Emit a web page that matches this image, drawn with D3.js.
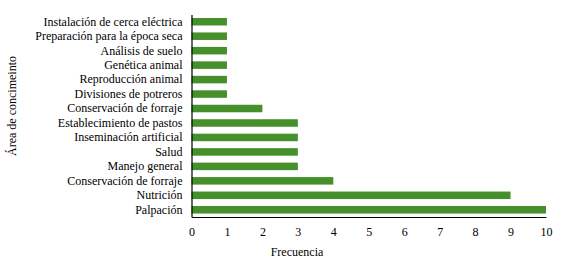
<!DOCTYPE html>
<html>
<head>
<meta charset="utf-8">
<script src="https://cdn.jsdelivr.net/npm/d3@7"></script>
<style>
  body { margin: 0; background: #fff; }
  svg text { font-family: "Liberation Serif", "Times New Roman", serif; fill: #000; }
</style>
</head>
<body>
<svg id="chart" width="567" height="264"></svg>
<script>
const categories = [
  "Instalación de cerca eléctrica",
  "Preparación para la época seca",
  "Análisis de suelo",
  "Genética animal",
  "Reproducción animal",
  "Divisiones de potreros",
  "Conservación de forraje ",
  "Establecimiento de pastos",
  "Inseminación artificial",
  "Salud",
  "Manejo general",
  "Conservación de forraje",
  "Nutrición",
  "Palpación"
];
const values = [1, 1, 1, 1, 1, 1, 2, 3, 3, 3, 3, 4, 9, 10];
const xTicks = [0, 1, 2, 3, 4, 5, 6, 7, 8, 9, 10];

const svg = d3.select("#chart");
const margin = {left: 191.5, right: 21, top: 14.5, bottom: 47};
const width = 567 - margin.left - margin.right,
  height = 264 - margin.top - margin.bottom;

const x = d3.scaleLinear().domain([0, 10]).range([0, width]);
const y = d3.scaleBand().domain(categories).range([0, height]).paddingInner(0.48).paddingOuter(0.24);

const g = svg.append("g").attr("transform", `translate(${margin.left},${margin.top})`);

g.selectAll(".bar")
  .data(values)
  .enter().append("rect")
  .attr("class", "bar")
  .attr("x", 0)
  .attr("y", (d, i) => y(categories[i]))
  .attr("width", d => x(d))
  .attr("height", y.bandwidth())
  .attr("fill", "#46902b");

// y axis
const yAxis = g.append("g")
  .call(d3.axisLeft(y).tickSize(0).tickPadding(9));
yAxis.select(".domain").attr("stroke", "#000").attr("stroke-width", 1.2);
yAxis.selectAll("text").attr("font-size", "12px").style("font-family", "'Liberation Serif', serif");

// x axis
const xAxis = g.append("g")
  .attr("transform", `translate(0,${height})`)
  .call(d3.axisBottom(x).tickValues(xTicks).tickSize(0).tickPadding(10));
xAxis.select(".domain").attr("stroke", "#000").attr("stroke-width", 1.2);
xAxis.selectAll("text").attr("font-size", "12px").style("font-family", "'Liberation Serif', serif");

// axis titles
svg.append("text")
  .attr("x", 297)
  .attr("y", 256)
  .attr("text-anchor", "middle")
  .attr("font-size", "12px")
  .text("Frecuencia");

svg.append("text")
  .attr("transform", "translate(16,106) rotate(-90)")
  .attr("text-anchor", "middle")
  .attr("font-size", "12px")
  .text("Área de concimeinto");
</script>
</body>
</html>
